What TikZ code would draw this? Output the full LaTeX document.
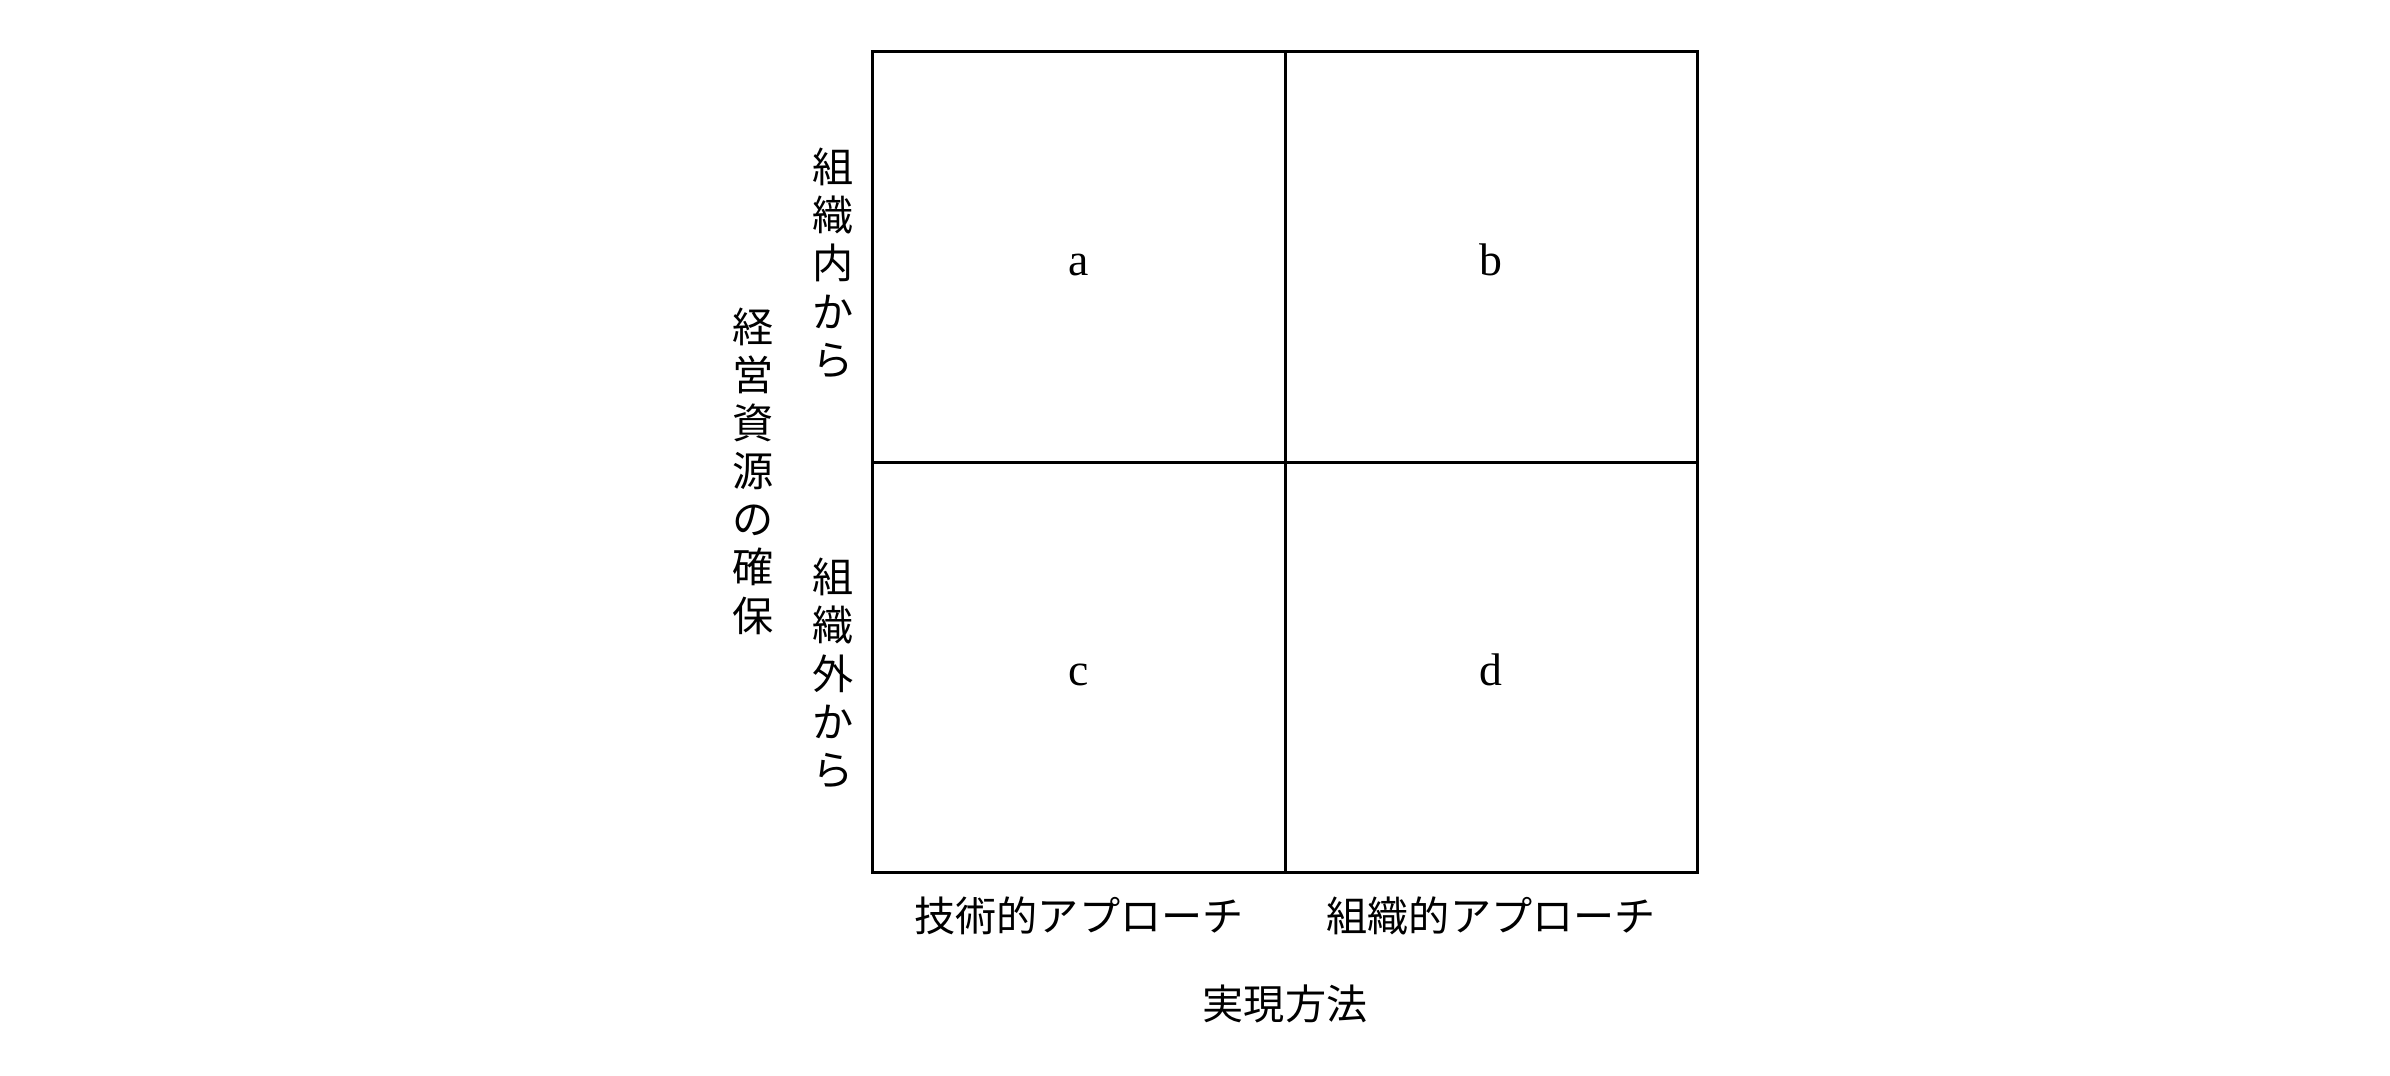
\documentclass[tikz,border=0pt]{standalone}
\usepackage{fontspec}
\setmainfont{Liberation Serif}
\newfontfamily\cjk{Noto Sans CJK JP}
\usetikzlibrary{positioning}

\begin{document}
\begin{tikzpicture}[
    x=0.01cm, y=-0.01cm,
    cell/.style={draw, line width=0.9pt, outer sep=0pt, inner sep=0pt,
      minimum width=4.12cm, minimum height=4.1cm, text height=2.3ex, text depth=0pt,
      font=\fontsize{13}{15}\selectfont},
    jlabel/.style={font=\cjk\fontsize{11.7}{13.7}\selectfont, inner sep=0pt, align=center}
  ]
    \useasboundingbox (0,0) rectangle (2390,1076);
    \node[cell] (a) at (1079,257) {a};
    \node[cell, right=0pt of a] (b) {b};
    \node[cell, below=0pt of a] (c) {c};
    \node[cell, right=0pt of c] (d) {d};
    % row labels
    \node[jlabel, left=0.19cm of a, yshift=-0.06cm] (inside) {組\\織\\内\\か\\ら};
    \node[jlabel, left=0.19cm of c, yshift=-0.06cm] (outside) {組\\織\\外\\か\\ら};
    \node[jlabel] (resource) at (753,471) {経\\営\\資\\源\\の\\確\\保};
    % column labels
    \node[jlabel, below=0.24cm of c] (tech) {技術的アプローチ};
    \node[jlabel, below=0.24cm of d] (org) {組織的アプローチ};
    \node[jlabel] (method) at (1285,1004) {実現方法};
  \end{tikzpicture}
\end{document}
